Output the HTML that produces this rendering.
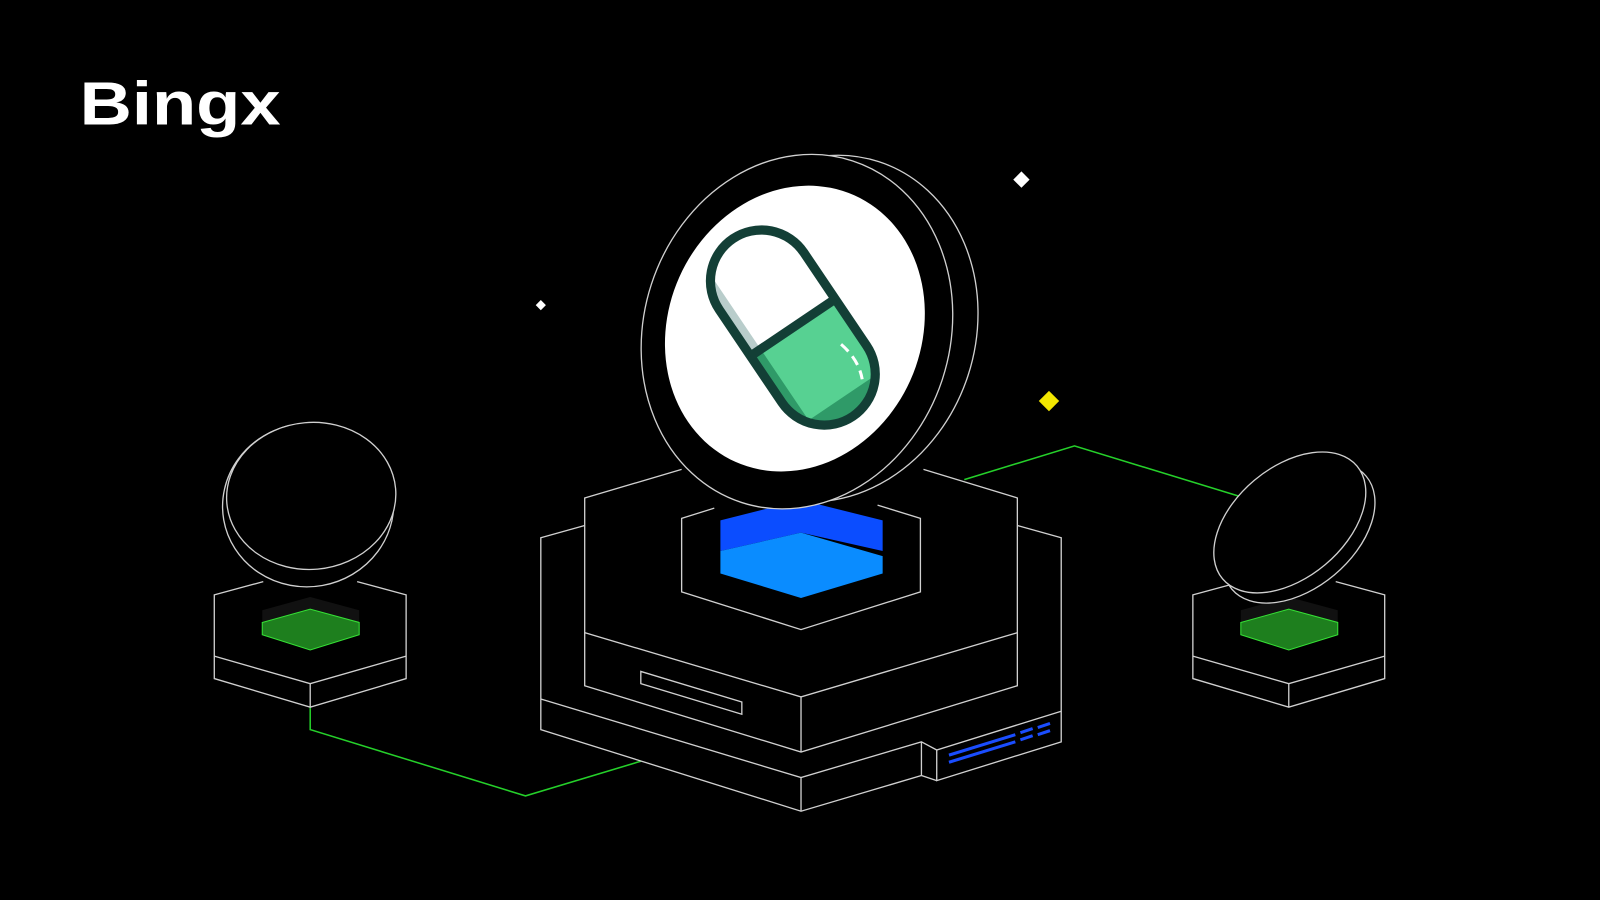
<!DOCTYPE html>
<html><head><meta charset="utf-8"><style>
html,body{margin:0;padding:0;background:#000;width:1600px;height:900px;overflow:hidden}
svg{display:block}
</style></head><body>
<svg width="1600" height="900" viewBox="0 0 1568 882" preserveAspectRatio="none" xmlns="http://www.w3.org/2000/svg">
<rect width="1568" height="882" fill="#000"/>
<text x="78" y="122" fill="#fff" font-family="Liberation Sans, sans-serif" font-weight="bold" font-size="60" textLength="197" lengthAdjust="spacingAndGlyphs">Bingx</text>

<g fill="none" stroke="#25d02a" stroke-width="1.5">
<polyline points="304,693 304,715 515,780 628,746"/>
<polyline points="945,470 1053,437 1220,488"/>
</g>

<g fill="none" stroke="#d0d0d0" stroke-width="1.3">
<polyline points="573,515 530,527 530,715 785,795 903,760"/>
<polyline points="530,685 785,762 903,727 918,735 1040,697"/>
<polyline points="997,515 1040,527 1040,727 918,765 918,735"/>
<line x1="785" y1="762" x2="785" y2="795"/>
<line x1="903" y1="727" x2="903" y2="760"/>
<line x1="903" y1="760" x2="918" y2="765"/>
<polyline points="668,460 573,488 573,672 785,737 997,672 997,488 905,460"/>
<polyline points="573,620 785,683 997,620"/>
<line x1="785" y1="683" x2="785" y2="737"/>
<polygon points="628,658 727,688 727,700 628,670"/>
<polyline points="700,498 668,508 668,580 785,617 902,580 902,508 860,495"/>
</g>
<polygon points="706,510 785,490 865,510 865,540 785,522 706,540" fill="#0b4dff"/>
<polygon points="706,540 785,522 865,545 865,562 785,586 706,562" fill="#0a8cff"/>
<g stroke="#1a4dff" stroke-width="3">
<line x1="930" y1="740" x2="995" y2="720"/><line x1="930" y1="747" x2="995" y2="727"/>
<line x1="1000" y1="718" x2="1012" y2="714"/><line x1="1000" y1="725" x2="1012" y2="721"/>
<line x1="1017" y1="713" x2="1029" y2="709"/><line x1="1017" y1="720" x2="1029" y2="716"/>
</g>

<ellipse cx="808" cy="322" rx="148" ry="172" transform="rotate(18 808 322)" fill="#000" stroke="#d0d0d0" stroke-width="1.3"/>
<ellipse cx="781" cy="325" rx="150" ry="176" transform="rotate(18 781 325)" fill="#000" stroke="#d0d0d0" stroke-width="1.3"/>
<ellipse cx="779" cy="322" rx="124" ry="143" transform="rotate(24 779 322)" fill="#fff"/>
<g transform="translate(777,321) rotate(-34)">
<clipPath id="pc"><rect x="-50" y="-105" width="100" height="210" rx="50"/></clipPath>
<g clip-path="url(#pc)">
<rect x="-60" y="-120" width="120" height="120" fill="#fff"/>
<rect x="-60" y="-120" width="22" height="120" fill="#b9cdcb"/>
<rect x="-60" y="0" width="120" height="120" fill="#57d192"/>
<rect x="-60" y="0" width="22" height="120" fill="#2f9a68"/>
<rect x="-60" y="84" width="120" height="30" fill="#2f9a68"/>
</g>
<rect x="-50" y="-105" width="100" height="210" rx="50" fill="none" stroke="#133f36" stroke-width="9"/>
<line x1="-50" y1="0" x2="50" y2="0" stroke="#133f36" stroke-width="9"/>
<path d="M30 40 Q36 62 28 80" fill="none" stroke="#fff" stroke-width="3" stroke-dasharray="10 6"/>
</g>

<g fill="none" stroke="#d0d0d0" stroke-width="1.3">
<polyline points="258,570 210,583 210,665 304,693 398,665 398,583 350,570"/>
<polyline points="210,643 304,670 398,643"/>
<line x1="304" y1="670" x2="304" y2="693"/>
</g>
<polygon points="257,598 304,585 352,598 352,610 304,597 257,610" fill="#111"/>
<polygon points="257,610 304,597 352,610 352,622 304,637 257,622" fill="#1e7f1e" stroke="#35e035" stroke-width="1"/>
<ellipse cx="302" cy="495" rx="84" ry="80" transform="rotate(-10 302 495)" fill="#000" stroke="#d0d0d0" stroke-width="1.3"/>
<ellipse cx="305" cy="486" rx="83" ry="72" transform="rotate(-5 305 486)" fill="#000" stroke="#d0d0d0" stroke-width="1.3"/>

<g fill="none" stroke="#d0d0d0" stroke-width="1.3">
<polyline points="1217,570 1169,583 1169,665 1263,693 1357,665 1357,583 1309,570"/>
<polyline points="1169,643 1263,670 1357,643"/>
<line x1="1263" y1="670" x2="1263" y2="693"/>
</g>
<polygon points="1216,598 1263,585 1311,598 1311,610 1263,597 1216,610" fill="#111"/>
<polygon points="1216,610 1263,597 1311,610 1311,622 1263,637 1216,622" fill="#1e7f1e" stroke="#35e035" stroke-width="1"/>
<ellipse cx="1273" cy="522" rx="86" ry="54" transform="rotate(-40 1273 522)" fill="#000" stroke="#d0d0d0" stroke-width="1.3"/>
<ellipse cx="1264" cy="512" rx="86" ry="54" transform="rotate(-40 1264 512)" fill="#000" stroke="#d0d0d0" stroke-width="1.3"/>

<polygon points="1001,168 1009,176 1001,184 993,176" fill="#fff"/>
<polygon points="530,294 535,299 530,304 525,299" fill="#fff"/>
<polygon points="1028,383 1038,393 1028,403 1018,393" fill="#f2e600"/>
</svg>
</body></html>
